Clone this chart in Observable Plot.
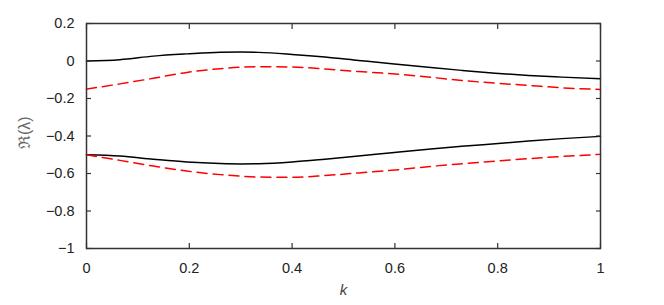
<!DOCTYPE html>
<html>
<head>
<meta charset="utf-8">
<script src="https://cdn.jsdelivr.net/npm/d3@7"></script>
<script src="https://cdn.jsdelivr.net/npm/@observablehq/plot@0.6"></script>
<style>
  html, body { margin: 0; padding: 0; background: #fff; }
  #chart { width: 664px; height: 305px; }
  svg { font-family: "Liberation Sans", Arial, sans-serif; }
</style>
</head>
<body>
<div id="chart"></div>
<script>
const kValues = [0, 0.065, 0.13, 0.195, 0.26, 0.3, 0.335, 0.4, 0.464, 0.529, 0.594, 0.67, 0.73, 0.795, 0.86, 0.925, 1];
const upperSolid  = [0, 0.007, 0.026, 0.038, 0.047, 0.048, 0.046, 0.035, 0.021, 0.003, -0.015, -0.035, -0.050, -0.065, -0.077, -0.086, -0.095];
const upperDashed = [-0.150, -0.122, -0.092, -0.061, -0.041, -0.033, -0.030, -0.032, -0.043, -0.056, -0.068, -0.087, -0.104, -0.118, -0.130, -0.143, -0.152];
const lowerSolid  = [-0.500, -0.507, -0.524, -0.539, -0.547, -0.549, -0.548, -0.539, -0.524, -0.507, -0.489, -0.469, -0.455, -0.441, -0.427, -0.414, -0.402];
const lowerDashed = [-0.500, -0.530, -0.560, -0.587, -0.606, -0.614, -0.619, -0.620, -0.611, -0.597, -0.583, -0.562, -0.548, -0.534, -0.521, -0.509, -0.498];

const xTicks = [0, 0.2, 0.4, 0.6, 0.8, 1];
const xTickLabels = ["0", "0.2", "0.4", "0.6", "0.8", "1"];
const yTicks = [0.2, 0, -0.2, -0.4, -0.6, -0.8, -1];
const yTickLabels = ["0.2", "0", "\u22120.2", "\u22120.4", "\u22120.6", "\u22120.8", "\u22121"];
const xLabel = "k";
const yLabel = "\u211C(\u03BB)";

const series = [
  {name: "upperSolid", values: upperSolid, kind: "solid"},
  {name: "upperDashed", values: upperDashed, kind: "dashed"},
  {name: "lowerSolid", values: lowerSolid, kind: "solid"},
  {name: "lowerDashed", values: lowerDashed, kind: "dashed"}
];
const rows = series.flatMap(s => kValues.map((k, i) => ({k, v: s.values[i], name: s.name, kind: s.kind})));
const solidRows = rows.filter(d => d.kind === "solid");
const dashedRows = rows.filter(d => d.kind === "dashed");

const axisColor = "#333";
const fmtX = d => xTickLabels[xTicks.findIndex(t => Math.abs(t - d) < 1e-9)];
const fmtY = d => yTickLabels[yTicks.findIndex(t => Math.abs(t - d) < 1e-9)];

const chart = Plot.plot({
  width: 664,
  height: 305,
  marginLeft: 86,
  marginRight: 64,
  marginTop: 23,
  marginBottom: 57,
  style: {fontFamily: "Liberation Sans, Arial, sans-serif", fontSize: "14px", color: axisColor, background: "#fff"},
  x: {domain: [0, 1]},
  y: {domain: [-1, 0.2]},
  marks: [
    Plot.line(solidRows, {x: "k", y: "v", z: "name", stroke: "#000", strokeWidth: 1.5, curve: "monotone-x"}),
    Plot.line(dashedRows, {x: "k", y: "v", z: "name", stroke: "#ff0000", strokeWidth: 1.5, strokeDasharray: "10,6", curve: "monotone-x"}),
    // inward ticks on all four sides
    Plot.axisX({ticks: xTicks, anchor: "bottom", tickSize: -5, tickFormat: () => "", stroke: axisColor, strokeWidth: 1.2, label: null}),
    Plot.axisX({ticks: xTicks, anchor: "top", tickSize: -5, tickFormat: () => "", stroke: axisColor, strokeWidth: 1.2, label: null}),
    Plot.axisY({ticks: yTicks, anchor: "left", tickSize: -5, tickFormat: () => "", stroke: axisColor, strokeWidth: 1.2, label: null}),
    Plot.axisY({ticks: yTicks, anchor: "right", tickSize: -5, tickFormat: () => "", stroke: axisColor, strokeWidth: 1.2, label: null}),
    // tick labels
    Plot.axisX({ticks: xTicks, anchor: "bottom", tickSize: 0, tickPadding: 14, tickFormat: fmtX, fill: "#222", fontSize: 14.5, label: null}),
    Plot.axisY({ticks: yTicks, anchor: "left", tickSize: 0, tickPadding: 12, tickFormat: fmtY, fill: "#222", fontSize: 14.5, label: null}),
    Plot.frame({stroke: axisColor, strokeWidth: 1.5}),
    Plot.text([xLabel], {frameAnchor: "bottom", dy: 46, text: d => d, fontStyle: "italic", fontSize: 15, fill: "#444"}),
    Plot.text([yLabel], {frameAnchor: "left", dx: -62, dy: 13, rotate: -90, text: d => d, fontSize: 16, fill: "#666"})
  ]
});
document.getElementById("chart").appendChild(chart);
</script>
</body>
</html>
